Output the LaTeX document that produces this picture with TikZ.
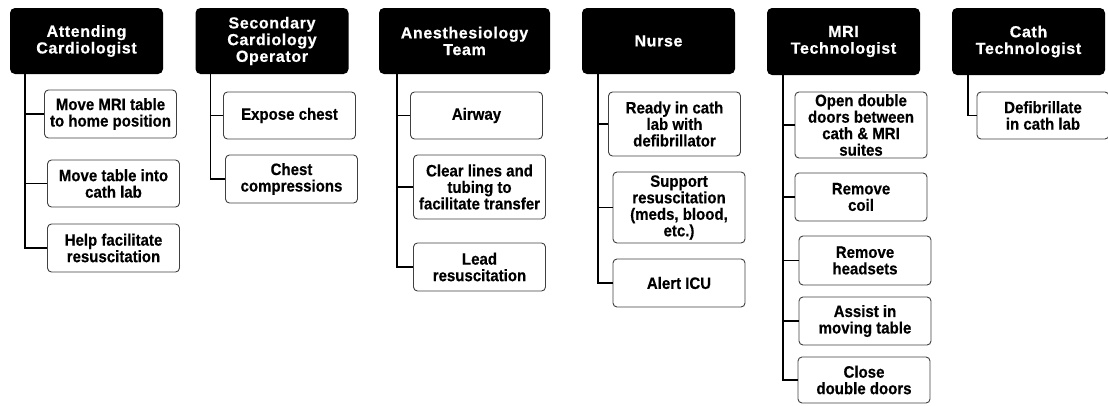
\documentclass[tikz,border=0pt]{standalone}
\usepackage{fontspec}
\setmainfont{Liberation Sans}
\newfontfamily\taskfont[FakeStretch=0.91, BoldFeatures={FakeBold=0.4}]{Liberation Sans}
\newfontfamily\rolefont[LetterSpace=4, BoldFeatures={FakeBold=0.6}]{Liberation Sans}
\usetikzlibrary{positioning}

\begin{document}
\begin{tikzpicture}[
    x=1pt, y=-1pt, % work in pixel-like units, y grows downwards
    % Styles for the role headers and the task boxes
    role/.style={rectangle, fill=black, text=white, rounded corners=5pt, align=center,
        minimum width=153pt, minimum height=66pt, inner sep=1pt,
        font=\rolefont\bfseries\fontsize{16}{16.7}\selectfont},
    task/.style={rectangle, draw=black!75, line width=0.9pt, fill=white, rounded corners=4pt,
        align=center, minimum width=132pt, minimum height=48pt, inner sep=1pt,
        font=\taskfont\bfseries\fontsize{16.5}{16.5}\selectfont},
    line/.style={
        draw,
        line width=1.6pt
    }
]

\useasboundingbox (0,0) rectangle (1108,405);

% Define a command that places a task box and hangs it on the trunk of its role
\newcommand{\addtask}[6]{
    % #1 trunk, #2 name, #3 x, #4 y, #5 height, #6 text
    \node [task, minimum height=#5] (#2) at (#3,#4) {#6};
    \path [line] (#1) |- (#2.west);
}

% Role headers
\node [role] (attending) at (86.5,41) {Attending\\Cardiologist};
\node [role] (secondary) at (272,41) {Secondary\\Cardiology\\Operator};
\node [role, minimum width=171pt] (anesth) at (464.5,41) {Anesthesiology\\Team};
\node [role] (nurse) at (658.5,41) {Nurse};
\node [role, minimum height=67pt] (mritech) at (843.5,41.5) {MRI\\Technologist};
\node [role, minimum height=67pt] (cathtech) at (1028.5,41.5) {Cath\\Technologist};

% Top of each trunk line
\coordinate (attending-t) at ([xshift=15pt]attending.south west);
\coordinate (secondary-t) at ([xshift=15pt]secondary.south west);
\coordinate (anesth-t) at ([xshift=18pt]anesth.south west);
\coordinate (nurse-t) at ([xshift=16pt]nurse.south west);
\coordinate (mritech-t) at ([xshift=16pt]mritech.south west);
\coordinate (cathtech-t) at ([xshift=16pt]cathtech.south west);

% Attending cardiologist
\addtask{attending-t}{movemri}{110.5}{114}{48pt}{Move MRI table\\to home position};
\addtask{attending-t}{movetable}{113.5}{183.5}{47pt}{Move table into\\cath lab};
\addtask{attending-t}{helpres}{113.5}{248}{48pt}{Help facilitate\\resuscitation};

% Secondary cardiology operator
\addtask{secondary-t}{exposechest}{289.5}{115.5}{47pt}{Expose chest};
\addtask{secondary-t}{compress}{291.5}{179}{48pt}{Chest\\compressions};

% Anesthesiology team
\addtask{anesth-t}{airway}{476.5}{115.5}{47pt}{Airway};
\addtask{anesth-t}{clearlines}{479.5}{187}{64pt}{Clear lines and\\tubing to\\facilitate transfer};
\addtask{anesth-t}{leadres}{479.5}{267}{48pt}{Lead\\resuscitation};

% Nurse
\addtask{nurse-t}{readycath}{674.5}{124}{64pt}{Ready in cath\\lab with\\defibrillator};
\addtask{nurse-t}{supportres}{679}{207.5}{71pt}{Support\\resuscitation\\(meds, blood,\\etc.)};
\addtask{nurse-t}{alerticu}{679}{283}{48pt}{Alert ICU};

% MRI technologist
\addtask{mritech-t}{opendoors}{861}{125}{66pt}{Open double\\doors between\\cath \& MRI\\suites};
\addtask{mritech-t}{removecoil}{861}{197}{48pt}{Remove\\coil};
\addtask{mritech-t}{removeheadsets}{865}{260.5}{49pt}{Remove\\headsets};
\addtask{mritech-t}{assist}{865}{321}{48pt}{Assist in\\moving table};
\addtask{mritech-t}{closedoors}{864}{380}{46pt}{Close\\double doors};

% Cath technologist
\addtask{cathtech-t}{defib}{1043}{115.5}{47pt}{Defibrillate\\in cath lab};

\end{tikzpicture}
\end{document}
